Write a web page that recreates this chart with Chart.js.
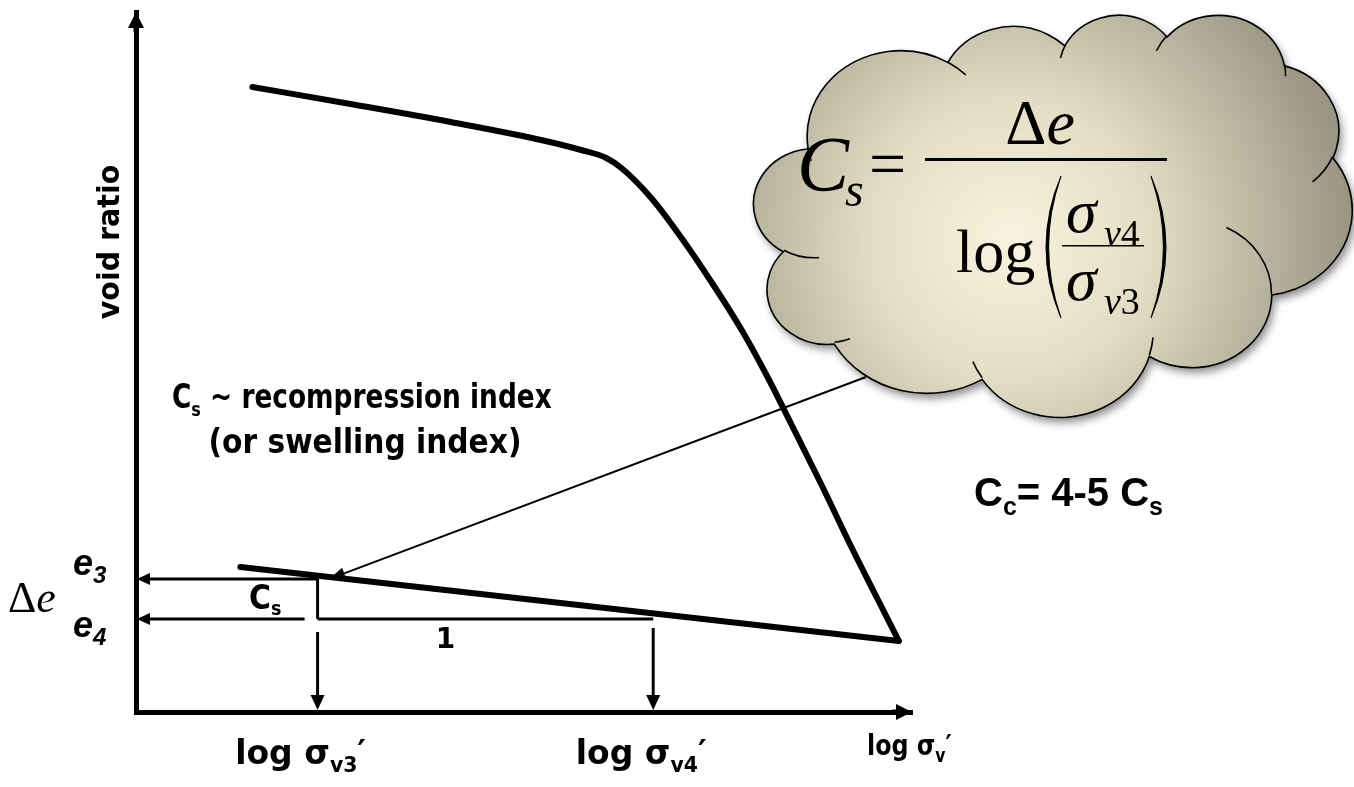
<!DOCTYPE html>
<html>
<head>
<meta charset="utf-8">
<title>Recompression index C_s</title>
<script src="https://cdn.jsdelivr.net/npm/chart.js@4.4.1/dist/chart.umd.min.js"></script>
<style>
  html, body { margin: 0; padding: 0; background: #ffffff; }
  #wrap { width: 1354px; height: 787px; position: relative; }
</style>
</head>
<body>
<div id="wrap"><canvas id="c" width="1354" height="787"></canvas></div>
<script>
// e – log σv' curve: virgin loading branch (log cycles of stress, void ratio)
const loadLogStress = [0.300, 0.553, 0.811, 1.044, 1.147, 1.212, 1.251, 1.328, 1.406,
                       1.483, 1.561, 1.625, 1.690, 1.767, 1.845, 1.910, 1.966];
const loadVoidRatio = [1.250, 1.216, 1.180, 1.144, 1.124, 1.108, 1.088, 1.028, 0.948,
                       0.860, 0.764, 0.674, 0.574, 0.454, 0.328, 0.228, 0.142];
// unloading / reloading branch (slope = C_s)
const reloadLogStress = [0.269, 1.966];
const reloadVoidRatio = [0.290, 0.142];
// points that define the C_s triangle
const sigmaMarks = [0.468, 1.333];     // log σv3', log σv4'
const voidMarks  = [0.266, 0.186];     // e3, e4
// axis extents
const axisMaxX = 2.0;
const axisMaxY = 1.4;

const BLACK = '#000000';
const SANS = '"DejaVu Sans", Verdana, sans-serif';
const SERIF = '"Liberation Serif", "Times New Roman", serif';
const ARIAL = '"Liberation Sans", Arial, sans-serif';

// ---- small drawing helpers -------------------------------------------
function runsWidth(ctx, runs) {
  let w = 0;
  for (const r of runs) { ctx.font = r.font; w += ctx.measureText(r.t).width + (r.gap || 0); }
  return w;
}
function drawRuns(ctx, runs, x, y, opt = {}) {
  ctx.save();
  ctx.translate(x, y);
  if (opt.rot) ctx.rotate(opt.rot);
  ctx.scale(opt.sx || 1, 1);
  ctx.textAlign = 'left';
  ctx.textBaseline = 'alphabetic';
  ctx.fillStyle = BLACK;
  const w = runsWidth(ctx, runs);
  let cx = opt.align === 'center' ? -w / 2 : (opt.align === 'right' ? -w : 0);
  for (const r of runs) {
    ctx.font = r.font;
    ctx.fillText(r.t, cx + (r.dx || 0), r.dy || 0);
    cx += ctx.measureText(r.t).width + (r.gap || 0);
  }
  ctx.restore();
}
function arrow(ctx, x1, y1, x2, y2, lw, headLen, headHalf) {
  const a = Math.atan2(y2 - y1, x2 - x1);
  const bx = x2 - headLen * Math.cos(a), by = y2 - headLen * Math.sin(a);
  ctx.save();
  ctx.strokeStyle = BLACK; ctx.fillStyle = BLACK;
  ctx.lineWidth = lw; ctx.lineCap = 'butt';
  ctx.beginPath(); ctx.moveTo(x1, y1); ctx.lineTo(bx, by); ctx.stroke();
  ctx.beginPath();
  ctx.moveTo(x2, y2);
  ctx.lineTo(bx + headHalf * Math.sin(a), by - headHalf * Math.cos(a));
  ctx.lineTo(bx - headHalf * Math.sin(a), by + headHalf * Math.cos(a));
  ctx.closePath(); ctx.fill();
  ctx.restore();
}
function line(ctx, x1, y1, x2, y2, lw) {
  ctx.save();
  ctx.strokeStyle = BLACK; ctx.lineWidth = lw; ctx.lineCap = 'butt';
  ctx.beginPath(); ctx.moveTo(x1, y1); ctx.lineTo(x2, y2); ctx.stroke();
  ctx.restore();
}

// ---- cloud callout (preset cloud outline on a 43200 grid) ---------------
const cloudOutline = [
  ['M', 3900, 14370],
  ['A', 6753, 9190, -11429249, 7426832],
  ['A', 5333, 7267, -8646143, 5396714],
  ['A', 4365, 5945, -8748475, 5983381],
  ['A', 4857, 6595, -7859164, 7034504],
  ['A', 5333, 7273, -4722533, 6541615],
  ['A', 6775, 9220, -2776035, 7816140],
  ['A', 5785, 7867, 37501, 6842000],
  ['A', 6752, 9215, 1347096, 6910353],
  ['A', 7720, 10543, 3974558, 4542661],
  ['A', 4360, 5918, -16496525, 8804134],
  ['A', 4345, 5945, -14809710, 9151131],
  ['Z']
];
const cloudCreases = [
  ['M', 4693, 26177], ['A', 4345, 5945, 5204520, 1585770],
  ['M', 6928, 34899], ['A', 4360, 5918, 4416628, 686848],
  ['M', 16478, 39090], ['A', 6752, 9215, 8257449, 844866],
  ['M', 28827, 34751], ['A', 6752, 9215, 387196, 959901],
  ['M', 34129, 22954], ['A', 5785, 7867, -4217541, 4255042],
  ['M', 41798, 15354], ['A', 5333, 7273, 1819082, 1665090],
  ['M', 38324, 5426], ['A', 4857, 6595, -824660, 891534],
  ['M', 29078, 3952], ['A', 4857, 6595, -8950887, 1091722],
  ['M', 22141, 4720], ['A', 4365, 5945, -9809656, 1061181],
  ['M', 14000, 5192], ['A', 6753, 9190, -4002417, 739161],
  ['M', 4127, 15789], ['A', 6753, 9190, 9459261, 711490]
];
function tracePreset(ctx, cmds, bx, by, bw, bh) {
  const sx = bw / 43200, sy = bh / 43200;
  let cur = [0, 0];
  ctx.beginPath();
  for (const c of cmds) {
    if (c[0] === 'M') {
      cur = [c[1], c[2]];
      ctx.moveTo(bx + cur[0] * sx, by + cur[1] * sy);
    } else if (c[0] === 'A') {
      const wR = c[1], hR = c[2];
      const a0 = c[3] / 60000 * Math.PI / 180;
      const da = c[4] / 60000 * Math.PI / 180;
      const t0 = Math.atan2(wR * Math.sin(a0), hR * Math.cos(a0));
      const a1 = a0 + da;
      let t1 = Math.atan2(wR * Math.sin(a1), hR * Math.cos(a1));
      let dt = t1 - t0;
      while (da > 0 && dt < 0) dt += 2 * Math.PI;
      while (da < 0 && dt > 0) dt -= 2 * Math.PI;
      t1 = t0 + dt;
      const ccx = cur[0] - wR * Math.cos(t0), ccy = cur[1] - hR * Math.sin(t0);
      ctx.ellipse(bx + ccx * sx, by + ccy * sy, wR * sx, hR * sy, 0, t0, t1, da < 0);
      cur = [ccx + wR * Math.cos(t1), ccy + hR * Math.sin(t1)];
    } else if (c[0] === 'Z') {
      ctx.closePath();
    }
  }
}
function drawCloud(ctx) {
  const bx = 754, by = 14, bw = 598, bh = 402;
  ctx.save();
  tracePreset(ctx, cloudOutline, bx, by, bw, bh);
  const g = ctx.createRadialGradient(1010, 240, 0, 1010, 240, 340);
  g.addColorStop(0, '#f8f3de');
  g.addColorStop(0.4, '#e4dec6');
  g.addColorStop(1, '#9a9682');
  ctx.shadowColor = 'rgba(0,0,0,0.45)';
  ctx.shadowBlur = 9;
  ctx.shadowOffsetX = 3;
  ctx.shadowOffsetY = 5;
  ctx.fillStyle = g;
  ctx.fill();
  ctx.shadowColor = 'transparent';
  ctx.strokeStyle = BLACK;
  ctx.lineWidth = 1.6;
  ctx.stroke();
  tracePreset(ctx, cloudCreases, bx, by, bw, bh);
  ctx.stroke();
  ctx.restore();
}
function paren(ctx, xTip, xMid, yTop, yBot, thick) {
  // crescent-shaped tall bracket
  const ym = (yTop + yBot) / 2;
  const ctrl = xMid - (xTip - xMid) * 0.3;
  ctx.beginPath();
  ctx.moveTo(xTip, yTop);
  ctx.quadraticCurveTo(ctrl, ym, xTip, yBot);
  ctx.quadraticCurveTo(ctrl + thick, ym, xTip, yTop);
  ctx.closePath();
  ctx.fill();
  ctx.lineWidth = 1.1;
  ctx.strokeStyle = BLACK;
  ctx.stroke();
}
function drawFormula(ctx) {
  ctx.save();
  ctx.fillStyle = BLACK;
  drawRuns(ctx, [{ t: 'C', font: 'italic 78px ' + SERIF }], 797, 190);
  drawRuns(ctx, [{ t: 's', font: 'italic 48px ' + SERIF }], 845, 206);
  drawRuns(ctx, [{ t: '=', font: '66px ' + SERIF }], 869, 186);
  // main fraction bar
  ctx.fillRect(925, 158, 242, 3);
  drawRuns(ctx, [{ t: 'Δ', font: '64px ' + SERIF }, { t: 'e', font: 'italic 64px ' + SERIF }], 1040, 144, { align: 'center' });
  drawRuns(ctx, [{ t: 'log', font: '62px ' + SERIF }], 956, 272);
  paren(ctx, 1061, 1038, 176, 318, 5);
  paren(ctx, 1151, 1174, 176, 318, -5);
  // inner fraction
  drawRuns(ctx, [{ t: 'σ', font: 'italic 62px ' + SERIF }], 1066, 232);
  drawRuns(ctx, [{ t: 'v', font: 'italic 38px ' + SERIF }, { t: '4', font: '38px ' + SERIF }], 1104, 246);
  ctx.fillRect(1062, 245, 82, 1.5);
  drawRuns(ctx, [{ t: 'σ', font: 'italic 62px ' + SERIF }], 1066, 300);
  drawRuns(ctx, [{ t: 'v', font: 'italic 38px ' + SERIF }, { t: '3', font: '38px ' + SERIF }], 1104, 314);
  ctx.restore();
}

// ---- plugin: axes arrows, construction lines, labels, callout -----------
const diagramPlugin = {
  id: 'diagram',
  afterDatasetsDraw(chart) {
    const ctx = chart.ctx;
    const xs = chart.scales.x, ys = chart.scales.y;
    const X = v => xs.getPixelForValue(v), Y = v => ys.getPixelForValue(v);
    const ca = chart.chartArea;

    // arrowheads at the ends of both axes
    arrow(ctx, ca.left, ca.top + 20, ca.left, ca.top, 5, 16, 8);
    arrow(ctx, ca.right - 20, ca.bottom, ca.right, ca.bottom, 5, 16, 8);

    const x3 = X(sigmaMarks[0]), x4 = X(sigmaMarks[1]);
    const ye3 = Y(voidMarks[0]), ye4 = Y(voidMarks[1]);

    arrow(ctx, x3, ye3, ca.left + 1, ye3, 3, 13, 6);
    arrow(ctx, x3 - 13, ye4, ca.left + 1, ye4, 3, 13, 6);
    // C_s triangle
    line(ctx, x3, ye3, x3, ye4, 3);
    line(ctx, x3, ye4, x4, ye4, 3);
    // projections down to the stress axis
    arrow(ctx, x3, ye4 + 13, x3, ca.bottom - 2, 3, 15, 7);
    arrow(ctx, x4, ye4 + 9, x4, ca.bottom - 2, 3, 15, 7);

    // pointer from the callout to the reloading line
    const t = 0.03;
    const yOnLine = reloadVoidRatio[0] + (reloadVoidRatio[1] - reloadVoidRatio[0]) *
      ((sigmaMarks[0] + t - reloadLogStress[0]) / (reloadLogStress[1] - reloadLogStress[0]));
    arrow(ctx, 866, 377, X(sigmaMarks[0] + t), Y(yOnLine) + 2, 2, 16, 6);

    // axis titles and tick captions
    drawRuns(ctx, [{ t: 'void ratio', font: 'bold 31px ' + SANS }], 119, 242, { rot: -Math.PI / 2, align: 'center', sx: 0.92 });
    const tl = 'bold 34px ' + SANS, ts = 'bold 21px ' + SANS;
    drawRuns(ctx, [{ t: 'log σ', font: tl }, { t: 'v3', font: ts, dy: 8 }, { t: '′', font: tl }], x3 - 17, 764, { align: 'center', sx: 0.97 });
    drawRuns(ctx, [{ t: 'log σ', font: tl }, { t: 'v4', font: ts, dy: 8 }, { t: '′', font: tl }], x4 - 12, 764, { align: 'center', sx: 0.97 });
    drawRuns(ctx, [{ t: 'log σ', font: 'bold 29px ' + SANS }, { t: 'v', font: 'bold 19px ' + SANS, dy: 7 }, { t: '′', font: 'bold 29px ' + SANS }], 867, 755, { sx: 0.82 });

    // Δe, e3, e4
    drawRuns(ctx, [{ t: 'Δ', font: '44px ' + SERIF }, { t: 'e', font: 'italic 44px ' + SERIF }], 8, 612);
    drawRuns(ctx, [{ t: 'e', font: 'bold italic 36px ' + ARIAL }, { t: '3', font: 'bold italic 24px ' + ARIAL, dy: 8 }], 73, ye3 - 4);
    drawRuns(ctx, [{ t: 'e', font: 'bold italic 36px ' + ARIAL }, { t: '4', font: 'bold italic 24px ' + ARIAL, dy: 8 }], 73, ye4 + 18);

    // triangle labels
    drawRuns(ctx, [{ t: 'C', font: 'bold 34px ' + SANS }, { t: 's', font: 'bold 20px ' + SANS, dy: 6 }], 249, ye4 - 10, { sx: 0.88 });
    drawRuns(ctx, [{ t: '1', font: 'bold 28px ' + SANS }], (x3 + x4) / 2 - 40, ye4 + 29, { align: 'center' });

    // descriptive text
    const big = 'bold 33px ' + SANS;
    drawRuns(ctx, [{ t: 'C', font: big }, { t: 's', font: 'bold 20px ' + SANS, dy: 8 }, { t: ' ~ recompression index', font: big }], 172, 408, { sx: 0.8 });
    drawRuns(ctx, [{ t: '(or swelling index)', font: big }], 365, 453, { align: 'center', sx: 0.9 });
    drawRuns(ctx, [{ t: 'C', font: 'bold 40px ' + ARIAL }, { t: 'c', font: 'bold 25px ' + ARIAL, dy: 9 },
                   { t: '= 4-5 C', font: 'bold 40px ' + ARIAL }, { t: 's', font: 'bold 25px ' + ARIAL, dy: 9 }], 974, 506);

    // callout with the definition of C_s
    drawCloud(ctx);
    drawFormula(ctx);
  }
};

new Chart(document.getElementById('c'), {
  type: 'scatter',
  data: {
    datasets: [
      {
        label: 'loading',
        data: loadLogStress.map((x, i) => ({ x, y: loadVoidRatio[i] })),
        showLine: true, borderColor: BLACK, borderWidth: 6, pointRadius: 0,
        cubicInterpolationMode: 'monotone', borderCapStyle: 'round', borderJoinStyle: 'round', clip: false
      },
      {
        label: 'reloading',
        data: reloadLogStress.map((x, i) => ({ x, y: reloadVoidRatio[i] })),
        showLine: true, borderColor: BLACK, borderWidth: 6, pointRadius: 0,
        borderCapStyle: 'round', borderJoinStyle: 'round', clip: false
      }
    ]
  },
  options: {
    responsive: false,
    animation: false,
    devicePixelRatio: 1,
    events: [],
    layout: { padding: { left: 136, right: 1354 - 912, top: 12, bottom: 787 - 712 } },
    plugins: { legend: { display: false }, tooltip: { enabled: false } },
    scales: {
      x: {
        type: 'linear', min: 0, max: axisMaxX,
        ticks: { display: false }, grid: { display: false, drawTicks: false },
        border: { display: true, color: BLACK, width: 5 },
        afterFit(s) { s.height = 0; }
      },
      y: {
        type: 'linear', min: 0, max: axisMaxY,
        ticks: { display: false }, grid: { display: false, drawTicks: false },
        border: { display: true, color: BLACK, width: 5 },
        afterFit(s) { s.width = 0; }
      }
    }
  },
  plugins: [diagramPlugin]
});
</script>
</body>
</html>
